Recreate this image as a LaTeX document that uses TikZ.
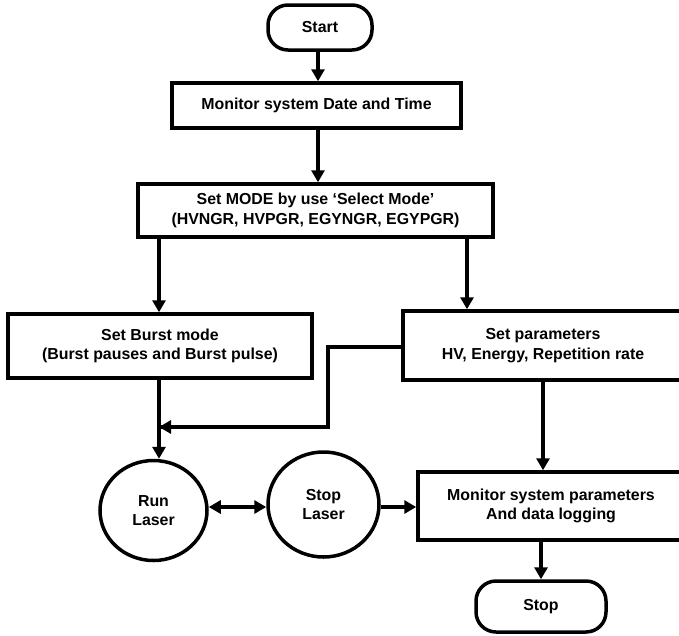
\documentclass[tikz,border=0pt]{standalone}
\usepackage{fontspec}
\setmainfont{Liberation Sans}
\usepackage{tikz}
\usetikzlibrary{arrows.meta,shapes,shapes.geometric,positioning}
\tikzset{
  box/.style={draw=black,line width=3.5pt,rectangle,align=center,inner sep=2pt},
  term/.style={box,rounded corners=20pt},
  oval/.style={draw=black,line width=3.5pt,ellipse,align=center,inner sep=0pt},
  flow/.style={line width=3.5pt,-{Triangle[length=12pt,width=13pt]}},
  both/.style={line width=3.5pt,{Triangle[length=12pt,width=13pt]}-{Triangle[length=12pt,width=13pt]}}
}
\begin{document}
\begin{tikzpicture}[x=1pt,y=-1pt,font=\fontsize{15.9}{19.5}\selectfont\bfseries]
\useasboundingbox[fill=white] (0.000000,0.000000) rectangle (679.000000,635.000000);
% Drawing boxes
\node[term,minimum width=104pt,minimum height=45pt] (start) at (320.000000,27.500000) {Start};
\node[box,minimum width=289pt,minimum height=45pt] (datetime) at (316.500000,105.500000) {Monitor system Date and Time};
\node[box,minimum width=355pt,minimum height=53pt] (mode) at (315.500000,210.500000) {Set MODE by use `Select Mode'\\(HVNGR, HVPGR, EGYNGR, EGYPGR)};
\node[box,minimum width=304pt,minimum height=64pt] (burst) at (160.000000,346.000000) {Set Burst mode\\(Burst pauses and Burst pulse)};
\node[box,minimum width=280pt,minimum height=69pt] (params) at (543.000000,345.500000) {Set parameters\\HV, Energy, Repetition rate};
\node[oval,minimum width=107pt,minimum height=100pt] (run) at (153.500000,510.500000) {Run\\Laser};
\node[oval,minimum width=111pt,minimum height=105pt] (halt) at (323.500000,504.500000) {Stop\\Laser};
\node[box,minimum width=266pt,minimum height=68pt] (logging) at (551.000000,506.000000) {Monitor system parameters\\And data logging};
\node[term,minimum width=130pt,minimum height=51pt] (stop) at (541.000000,606.500000) {Stop};
% Done with boxes; drawing arrows
\coordinate (modeleft) at (159.000000,237.000000);
\coordinate (moderight) at (467.000000,237.000000);
\coordinate (bend1) at (328.000000,347.000000);
\coordinate (bend2) at (328.000000,427.000000);
\coordinate (join) at (159.000000,427.000000);
\draw[flow] (start.south -| 318.000000,0) -- (datetime.north -| 318.000000,0);
\draw[flow] (datetime.south -| 318.000000,0) -- (mode.north -| 318.000000,0);
\draw[flow] (modeleft) -- (burst.north -| modeleft);
\draw[flow] (moderight) -- (params.north -| moderight);
\draw[flow] (burst.south -| join) -- (join |- run.north);
\draw[line width=3.5pt] (params.west |- bend1) -- (bend1) -- (bend2) -- (join);
\draw[flow] (bend2) -- (join);
\draw[both] (run.east |- 0,507.000000) -- (halt.west |- 0,507.000000);
\draw[flow] (halt.east |- 0,507.000000) -- (logging.west |- 0,507.000000);
\draw[flow] (params.south) -- (params.south |- logging.north);
\draw[flow] (logging.south -| stop.north) -- (stop.north);
% Done with arrows
\end{tikzpicture}
\end{document}
